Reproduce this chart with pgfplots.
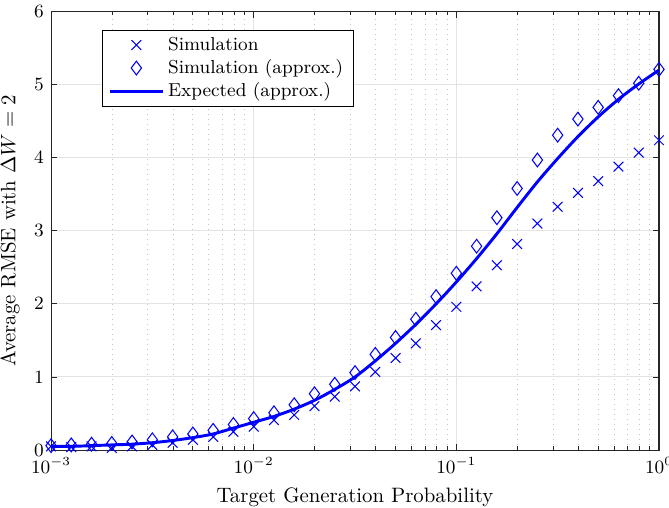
\documentclass[border=0pt]{standalone}
\usepackage{pgfplots}
\pgfplotsset{compat=1.18}

\definecolor{mblue}{rgb}{0,0,1}
\definecolor{axgray}{rgb}{0.15,0.15,0.15}

% k = 0..30, x = 10^(-3+k/10)
\pgfplotstableread{
x         sim   simapx  expapx
0.001000  0.05  0.06    0.05
0.001259  0.04  0.07    0.05
0.001585  0.05  0.08    0.06
0.001995  0.03  0.09    0.07
0.002512  0.05  0.11    0.08
0.003162  0.07  0.14    0.10
0.003981  0.10  0.18    0.13
0.005012  0.14  0.22    0.17
0.006310  0.18  0.27    0.22
0.007943  0.25  0.35    0.30
0.010000  0.32  0.43    0.38
0.012589  0.41  0.51    0.46
0.015849  0.48  0.62    0.56
0.019953  0.60  0.77    0.68
0.025119  0.73  0.90    0.83
0.031623  0.87  1.06    1.00
0.039811  1.07  1.31    1.22
0.050119  1.26  1.54    1.46
0.063096  1.46  1.79    1.72
0.079433  1.71  2.10    2.00
0.100000  1.96  2.42    2.30
0.125893  2.24  2.79    2.62
0.158489  2.53  3.18    2.96
0.199526  2.82  3.58    3.32
0.251189  3.10  3.97    3.67
0.316228  3.33  4.31    3.99
0.398107  3.52  4.53    4.29
0.501187  3.68  4.69    4.56
0.630957  3.88  4.85    4.80
0.794328  4.07  5.02    5.01
1.000000  4.24  5.21    5.20
}\rmsedata

\pgfplotsset{
  leg/.style={legend image code/.code={%
    \draw[mark repeat=2,mark phase=2,##1] plot coordinates {(0cm,0cm) (0.44cm,0cm) (0.88cm,0cm)};}},
}

\begin{document}
\begin{tikzpicture}
  \begin{semilogxaxis}[name=ax,
      scale only axis, width=291.8pt, height=210.4pt,
      xmin=1e-3, xmax=1, ymin=0, ymax=6,
      ytick={0,1,...,6},
      xlabel={Target Generation Probability},
      ylabel={Average RMSE with $\Delta W = 2$},
      tick label style={font=\small},
      label style={font=\normalsize},
      axis line style={axgray, line width=0.5pt},
      tick style={axgray, line width=0.4pt},
      major tick length=3pt, minor tick length=1.8pt,
      xmajorgrids, ymajorgrids, xminorgrids,
      major grid style={gray!22, line width=0.5pt},
      minor grid style={gray!45, dotted, line width=0.4pt},
      legend style={at={(0.0839,0.958)}, anchor=north west, font=\small,
                    draw=black, line width=0.5pt, fill=white,
                    inner xsep=3pt, inner ysep=1pt, row sep=-1pt},
      legend cell align=left,
      clip=false,
    ]
    \addplot[mblue, only marks, mark=x, mark size=3.3pt, line width=0.5pt, leg]
      table[x=x, y=sim] {\rmsedata};
    \addlegendentry{Simulation}
    \addplot[mblue, only marks, mark=diamond, mark size=3.3pt, line width=0.5pt, leg]
      table[x=x, y=simapx] {\rmsedata};
    \addlegendentry{Simulation (approx.)}
    \addplot[mblue, line width=1.4pt, smooth, leg]
      table[x=x, y=expapx] {\rmsedata};
    \addlegendentry{Expected (approx.)}
  \end{semilogxaxis}
  \pgfresetboundingbox
  \path ([xshift=-24.5pt,yshift=-27.8pt]ax.south west) rectangle ([xshift=4.8pt,yshift=5.6pt]ax.north east);
\end{tikzpicture}
\end{document}
